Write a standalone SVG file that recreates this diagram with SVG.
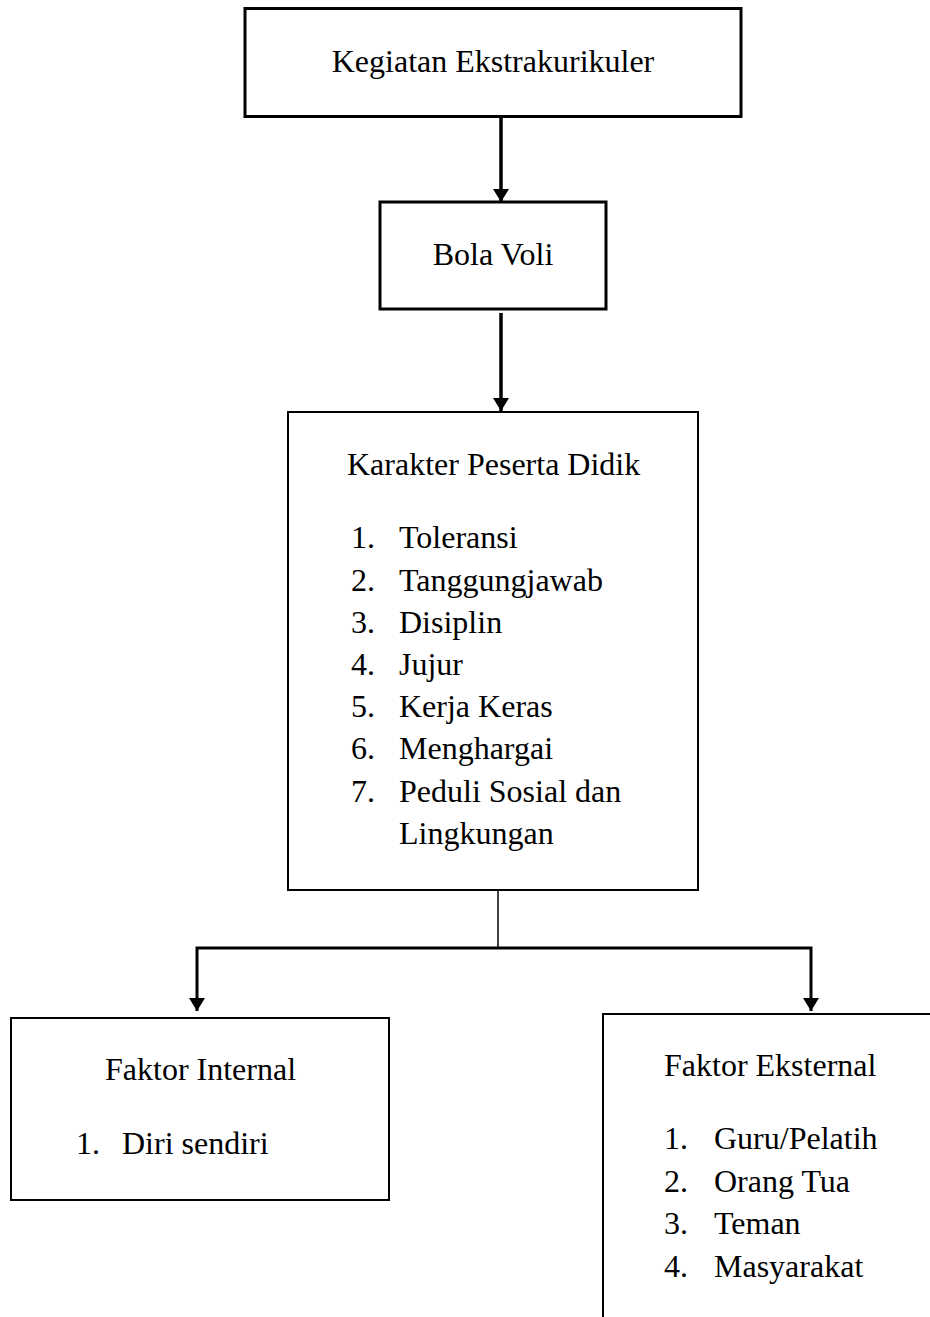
<svg xmlns="http://www.w3.org/2000/svg" width="930" height="1317" viewBox="0 0 930 1317">
<style>
text{font-family:"Liberation Serif","Times New Roman",serif;font-size:32px;fill:#000}
.box{fill:#fff;stroke:#000}
.thick{stroke-width:3}
.thin{stroke-width:2}
.conn{fill:none;stroke:#000}
</style>
<defs>
<marker id="ah" markerUnits="userSpaceOnUse" markerWidth="15" markerHeight="18" refX="13" refY="8" orient="auto">
<path d="M0,0 L13,8 L0,16 z" fill="#000"/>
</marker>
</defs>
<rect width="930" height="1317" fill="#fff"/>
<g id="connectors">
<path class="conn" d="M501,117 V202" stroke-width="3.5" marker-end="url(#ah)"/>
<path class="conn" d="M501,313 V411" stroke-width="3.5" marker-end="url(#ah)"/>
<path class="conn" d="M498,891 V948" stroke-width="1.5"/>
<path class="conn" d="M498,948 H197 V1011" stroke-width="3" marker-end="url(#ah)"/>
<path class="conn" d="M498,948 H811 V1011" stroke-width="3" marker-end="url(#ah)"/>
</g>
<g id="kegiatan">
<rect class="box thick" x="245" y="8.5" width="496" height="108"/>
<text x="493" y="72" text-anchor="middle">Kegiatan Ekstrakurikuler</text>
</g>
<g id="bolavoli">
<rect class="box thick" x="380" y="202" width="226" height="107"/>
<text x="493" y="265" text-anchor="middle">Bola Voli</text>
</g>
<g id="karakter">
<rect class="box thin" x="288" y="412" width="410" height="478"/>
<text x="347" y="475">Karakter Peserta Didik</text>
<text x="351" y="548">1.</text><text x="399" y="548">Toleransi</text>
<text x="351" y="591">2.</text><text x="399" y="591">Tanggungjawab</text>
<text x="351" y="633">3.</text><text x="399" y="633">Disiplin</text>
<text x="351" y="675">4.</text><text x="399" y="675">Jujur</text>
<text x="351" y="717">5.</text><text x="399" y="717">Kerja Keras</text>
<text x="351" y="759">6.</text><text x="399" y="759">Menghargai</text>
<text x="351" y="802">7.</text><text x="399" y="802">Peduli Sosial dan</text>
<text x="399" y="844">Lingkungan</text>
</g>
<g id="internal">
<rect class="box thin" x="11" y="1018" width="378" height="182"/>
<text x="105" y="1080">Faktor Internal</text>
<text x="76" y="1154">1.</text><text x="122" y="1154">Diri sendiri</text>
</g>
<g id="eksternal">
<rect class="box thin" x="603" y="1014" width="340" height="320"/>
<text x="664" y="1076">Faktor Eksternal</text>
<text x="664" y="1149">1.</text><text x="714" y="1149">Guru/Pelatih</text>
<text x="664" y="1192">2.</text><text x="714" y="1192">Orang Tua</text>
<text x="664" y="1234">3.</text><text x="714" y="1234">Teman</text>
<text x="664" y="1277">4.</text><text x="714" y="1277">Masyarakat</text>
</g>
</svg>
